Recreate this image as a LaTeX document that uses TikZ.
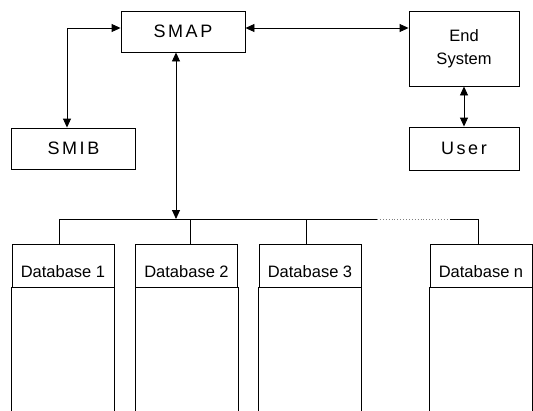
\documentclass[tikz,border=0pt]{standalone}
\usepackage{fontspec}
\setmainfont{Liberation Sans}
\newfontfamily\wide[LetterSpace=14]{Liberation Sans}
\usetikzlibrary{arrows.meta}

\tikzset{
    >={Triangle[length=9pt, width=8pt]},
    box/.style = {draw, line width=.9pt, minimum width=124pt, minimum height=41pt,
                  inner sep=0pt, font=\wide\fontsize{18}{20}\selectfont},
    dbhead/.style = {draw, line width=.9pt, minimum width=102pt, minimum height=43pt,
                     inner sep=0pt, text height=23pt, text depth=0pt,
                     font=\fontsize{16.5}{19}\selectfont},
}

\begin{document}
\begin{tikzpicture}[x=1pt, y=-1pt, line width=.9pt]
    \useasboundingbox (0, 0) rectangle (533, 410);

    % top row
    \node[box] (smap) at (183, 31.5) {SMAP};
    \node[box] (smib) at (73.5, 148.5) {SMIB};
    \node[box, minimum width=110pt, minimum height=75pt, align=center,
          font=\fontsize{16.5}{23}\selectfont] (endsys) at (464, 48.5) {End\\System};
    \node[box, minimum width=110pt, minimum height=43pt] (user) at (464, 148.5) {User};

    \draw[<->] (smap.west |- 0, 28) -| (smib.north -| 67, 0);
    \draw[<->] (smap.east |- 0, 28) -- (endsys.west |- 0, 28);
    \draw[<->] (endsys) -- (user);

    % bus to the databases
    \coordinate (busL) at (59, 219);
    \coordinate (tap) at (176, 219);
    \coordinate (gapL) at (377, 219);
    \coordinate (gapR) at (450, 219);
    \coordinate (busR) at (478, 219);
    \draw[<->] (smap.south -| tap) -- (tap);
    \draw (busL) -- (gapL);
    \draw[gray, dotted] (gapL) -- (gapR);
    \draw (gapR) -- (busR);

    \foreach \cx/\dx/\lbl [count=\i] in {63/59/1, 186.5/190/2, 310/306/3, 481/478/n}
    {
        \node[dbhead] (db\i) at (\cx, 265.5) {Database \lbl};
        \draw (db\i.south west) -- ++(0, 125);
        \draw (db\i.south east) -- ++(0, 125);
        \draw (\dx, 219) -- (db\i.north -| \dx, 0);
    }
\end{tikzpicture}
\end{document}
